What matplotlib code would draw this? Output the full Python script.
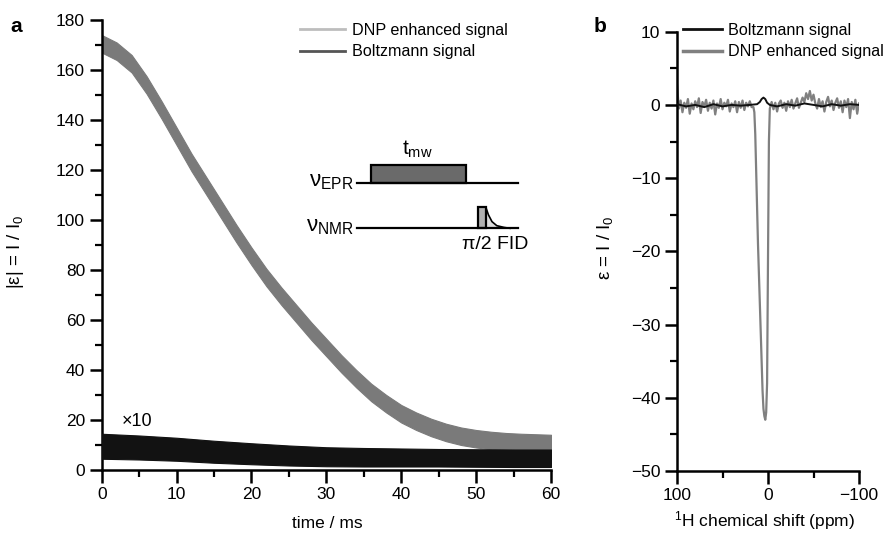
import matplotlib
matplotlib.use("Agg")
import matplotlib.pyplot as plt
from matplotlib.lines import Line2D
from matplotlib.patches import Rectangle, Polygon
from matplotlib.ticker import MultipleLocator

plt.rcParams['font.family'] = ['Liberation Sans', 'DejaVu Sans']
plt.rcParams['mathtext.fontset'] = 'custom'
plt.rcParams['mathtext.rm'] = 'Liberation Sans'
plt.rcParams['mathtext.it'] = 'Liberation Sans:italic'
plt.rcParams['mathtext.bf'] = 'Liberation Sans:bold'

# ---------------- Panel a data ----------------
t_dnp = [0, 2, 4, 6, 8, 10, 12, 14, 16, 18, 20, 22, 24, 26, 28, 30,
         32, 34, 36, 38, 40, 42, 44, 46, 48, 50, 52, 54, 56, 58, 60]
dnp_center = [170.5, 167.5, 162.5, 154, 144, 133.5, 123, 113.5, 104, 94.5, 85.5,
              77, 69.5, 62.5, 55.5, 49, 42.5, 36.5, 31, 26.5, 22.5, 19.5, 17,
              15, 13.5, 12.5, 11.8, 11.3, 11, 10.8, 10.6]
dnp_spread = [3.5] * len(t_dnp)

t_boltz = [0, 5, 10, 15, 20, 25, 30, 35, 40, 45, 50, 55, 60]
boltz_center = [9.5, 9, 8.3, 7.3, 6.5, 5.8, 5.3, 5.1, 5, 4.9, 4.8, 4.7, 4.7]
boltz_spread = [5, 4.8, 4.6, 4.4, 4.2, 4, 3.8, 3.7, 3.6, 3.5, 3.5, 3.5, 3.5]

# ---------------- Panel b data ----------------
ppm_dnp = [100, 98, 96, 94, 92, 90, 88, 86, 84, 82, 80, 78, 76, 74, 72, 70,
           68, 66, 64, 62, 60, 58, 56, 54, 52, 50, 48, 46, 44, 42, 40, 38,
           36, 34, 32, 30, 28, 26, 24, 22, 20, 18,
           16, 15, 14, 13, 12, 11, 10, 9, 8, 7, 6, 5, 4, 3, 2, 1, 0, -1, -2,
           -4, -6, -8, -10, -12, -14, -16, -18, -20, -22, -24, -26, -28, -30,
           -32, -34, -36, -38, -40, -42, -44, -46, -48, -50, -52, -54, -56,
           -58, -60, -62, -64, -66, -68, -70, -72, -74, -76, -78, -80, -82,
           -84, -86, -88, -90, -92, -94, -96, -98, -100]
dnp_spec = [2.8, -0.5, 0.6, -1.0, 0.3, -0.4, 0.8, -1.2, 0.2, -0.6, 0.5, -0.3,
            0.9, -1.1, 0.4, -0.2, 0.7, -0.8, 0.3, -0.5, 0.6, -1.3, 0.2, -0.4,
            0.8, -0.6, 0.3, -0.2, 0.7, -0.9, 0.2, -0.3, 0.5, -1.0, 0.4, -0.4,
            0.6, -0.7, 0.3, -0.2, 0.5, -0.3,
            -0.3, -1, -4, -9, -14, -19, -23, -27, -31, -35, -39, -41.5, -42.5,
            -43, -42, -38, -21, -5, -0.5,
            0.4, -0.6, 0.3, -0.9, 0.2, 0.6, -0.4, 0.3, -0.8, 0.5, -0.3, 0.7,
            -0.5, 0.2, 0.9, -0.4, 0.3, 1.0, 0.4, 1.6, 0.8, 1.9, 0.6, 1.4, 0.2,
            -0.5, 0.8, -0.3, 0.5, -0.9, 0.4, 1.1, -0.2, 0.6, -0.7, 0.3, 0.9,
            -0.4, 0.5, -1.0, 0.6, -0.3, 0.8, -1.8, 0.4, -0.6, 0.7, -1.2, 0.2]

ppm_boltz = [100, 90, 80, 70, 60, 50, 40, 30, 20, 12, 9, 7, 5, 3, 1, -2, -10,
             -20, -30, -40, -50, -60, -70, -80, -90, -100]
boltz_spec = [0.1, -0.2, 0.0, -0.3, 0.1, -0.2, 0.0, -0.1, 0.0, 0.1, 0.4, 0.8,
              1.0, 0.8, 0.3, 0.0, -0.2, 0.1, -0.1, 0.2, 0.0, -0.2, 0.1, -0.1,
              0.1, 0.0]

legend_a = ["DNP enhanced signal", "Boltzmann signal"]
legend_b = ["Boltzmann signal", "DNP enhanced signal"]

W, H = 886, 533
fig = plt.figure(figsize=(W / 100, H / 100), dpi=100)

def fx(px):
    return px / W

def fy(py):
    return 1 - py / H

FS_TICK = 12.5
FS_LAB = 12.5
FS_LEG = 11.6

def style_axes(ax):
    for s in ['top', 'right']:
        ax.spines[s].set_visible(False)
    for s in ['left', 'bottom']:
        ax.spines[s].set_linewidth(1.8)
    ax.tick_params(which='major', direction='out', length=9, width=1.8,
                   labelsize=FS_TICK, pad=3)
    ax.tick_params(which='minor', direction='out', length=5, width=1.6)

# ---------------- Panel a ----------------
axa = fig.add_axes([fx(101.7), fy(470), fx(551) - fx(101.7), fy(20) - fy(470)])
lo = [c - s for c, s in zip(dnp_center, dnp_spread)]
hi = [c + s for c, s in zip(dnp_center, dnp_spread)]
axa.fill_between(t_dnp, lo, hi, color='#7a7a7a', lw=0.8, edgecolor='#7a7a7a', zorder=2)
lo = [c - s for c, s in zip(boltz_center, boltz_spread)]
hi = [c + s for c, s in zip(boltz_center, boltz_spread)]
axa.fill_between(t_boltz, lo, hi, color='#121212', lw=0.8, edgecolor='#121212', zorder=3)
axa.set_xlim(0, 60)
axa.set_ylim(0, 180)
axa.xaxis.set_major_locator(MultipleLocator(10))
axa.xaxis.set_minor_locator(MultipleLocator(5))
axa.yaxis.set_major_locator(MultipleLocator(20))
axa.yaxis.set_minor_locator(MultipleLocator(10))
style_axes(axa)
axa.text(4.7, 19.5, "×10", fontsize=13, ha='center', va='center')

h_a = [Line2D([], [], color='#bdbdbd', lw=2), Line2D([], [], color='#555555', lw=2)]
axa.legend(h_a, legend_a, loc='upper left', bbox_to_anchor=(fx(300), fy(23)),
           bbox_transform=fig.transFigure, frameon=False, borderpad=0,
           borderaxespad=0, handlelength=2.8, handletextpad=0.45,
           labelspacing=0.4, fontsize=FS_LEG)

# pulse-sequence inset (schematic)
axi = fig.add_axes([fx(300), fy(255), fx(540) - fx(300), fy(140) - fy(255)])
axi.set_xlim(0, 1)
axi.set_ylim(0, 1)
axi.axis('off')
axi.plot([0.2375, 0.908], [0.6235, 0.6235], color='k', lw=1.6)
axi.add_patch(Rectangle((0.296, 0.6235), 0.690 - 0.296, 0.783 - 0.6235,
                        facecolor='#6a6a6a', edgecolor='k', lw=1.6))
axi.plot([0.2375, 0.908], [0.232, 0.232], color='k', lw=1.6)
fid = [(0.774, 0.417), (0.785, 0.35), (0.80, 0.29), (0.82, 0.255),
       (0.85, 0.24), (0.875, 0.232)]
axi.add_patch(Polygon(fid + [(0.774, 0.232)], closed=True, facecolor='#dddddd',
                      edgecolor='none'))
axi.plot([p[0] for p in fid], [p[1] for p in fid], color='k', lw=1.2)
axi.add_patch(Rectangle((0.740, 0.232), 0.774 - 0.740, 0.417 - 0.232,
                        facecolor='#b0b0b0', edgecolor='k', lw=1.6))
axi.text(0.49, 0.92, r"t$_{\mathrm{mw}}$", fontsize=15, ha='center', va='center')
axi.text(0.225, 0.64, r"ν$_{\mathrm{EPR}}$", fontsize=16, ha='right', va='center')
axi.text(0.225, 0.25, r"ν$_{\mathrm{NMR}}$", fontsize=16, ha='right', va='center')
axi.text(0.8125, 0.087, "π/2 FID", fontsize=14, ha='center', va='center')

# ---------------- Panel b ----------------
axb = fig.add_axes([fx(677), fy(471), fx(859) - fx(677), fy(31.7) - fy(471)])
axb.plot(ppm_dnp, dnp_spec, color='#808080', lw=1.6, zorder=2)
axb.plot(ppm_boltz, boltz_spec, color='#111111', lw=1.4, zorder=3)
axb.set_xlim(100, -100)
axb.set_ylim(-50, 10)
axb.xaxis.set_major_locator(MultipleLocator(100))
axb.xaxis.set_minor_locator(MultipleLocator(50))
axb.yaxis.set_major_locator(MultipleLocator(10))
axb.yaxis.set_minor_locator(MultipleLocator(5))
style_axes(axb)

h_b = [Line2D([], [], color='#111111', lw=2), Line2D([], [], color='#808080', lw=2.5)]
axb.legend(h_b, legend_b, loc='upper left', bbox_to_anchor=(fx(683), fy(23)),
           bbox_transform=fig.transFigure, frameon=False, borderpad=0,
           borderaxespad=0, handlelength=2.4, handletextpad=0.4,
           labelspacing=0.4, fontsize=FS_LEG)

# ---------------- labels ----------------
fig.text(fx(16), fy(252), "|ε| = I / I$_0$", rotation=90, fontsize=13.5,
         ha='center', va='center')
fig.text(fx(605), fy(248), "ε = I / I$_0$", rotation=90, fontsize=13.5,
         ha='center', va='center')
fig.text(fx(327), fy(523), "time / ms", fontsize=FS_LAB, ha='center', va='center')
fig.text(fx(765), fy(521), "$^{1}$H chemical shift (ppm)", fontsize=FS_LAB,
         ha='center', va='center')
fig.text(fx(16), fy(26), "a", fontsize=15, fontweight='bold', ha='center', va='center')
fig.text(fx(600), fy(26), "b", fontsize=15, fontweight='bold', ha='center', va='center')

fig.savefig("out.png", dpi=100)
